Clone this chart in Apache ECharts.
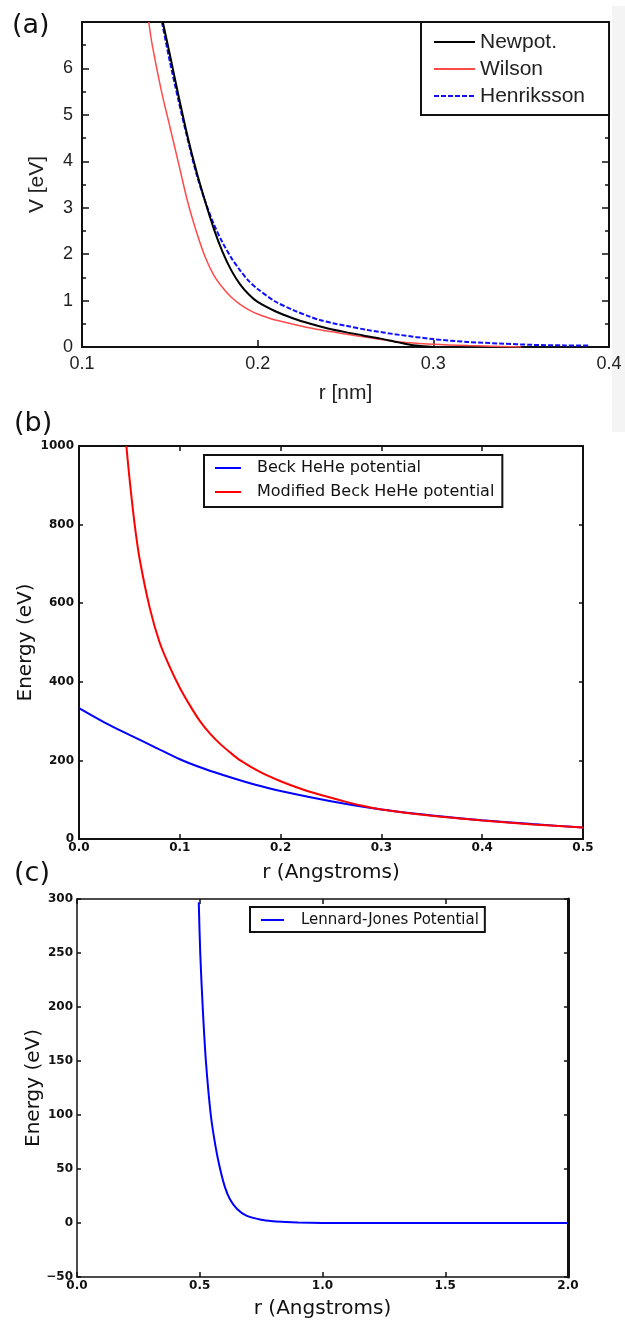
<!DOCTYPE html>
<html>
<head>
<meta charset="utf-8">
<script src="https://cdn.jsdelivr.net/npm/echarts@6/dist/echarts.min.js"></script>
<style>
  html, body { margin: 0; padding: 0; background: #fff; }
  #chart { width: 625px; height: 1322px; }
</style>
</head>
<body>
<div id="chart"></div>
<script>
// ---- (a) He-He repulsive potentials: r in nm, V in eV ----
const newpotR = [0.146, 0.150, 0.155, 0.160, 0.165, 0.170, 0.175, 0.180, 0.185, 0.190, 0.195, 0.200, 0.210, 0.220, 0.230, 0.240, 0.250, 0.260, 0.270, 0.280, 0.290, 0.300];
const newpotV = [7.0, 6.3, 5.4, 4.55, 3.8, 3.15, 2.55, 2.05, 1.65, 1.35, 1.13, 0.97, 0.77, 0.62, 0.50, 0.40, 0.32, 0.25, 0.18, 0.10, 0.03, 0.0];
const wilsonR = [0.138, 0.140, 0.145, 0.150, 0.155, 0.160, 0.165, 0.170, 0.175, 0.180, 0.185, 0.190, 0.195, 0.200, 0.210, 0.224, 0.2355, 0.250, 0.262, 0.281, 0.300, 0.320, 0.350];
const wilsonV = [7.0, 6.5, 5.55, 4.75, 3.95, 3.15, 2.5, 1.95, 1.55, 1.28, 1.07, 0.92, 0.80, 0.71, 0.58, 0.46, 0.37, 0.28, 0.21, 0.11, 0.06, 0.03, 0.0];
const henrikR = [0.1455, 0.150, 0.155, 0.160, 0.165, 0.170, 0.175, 0.180, 0.185, 0.190, 0.195, 0.200, 0.210, 0.220, 0.230, 0.2355, 0.243, 0.250, 0.262, 0.281, 0.300, 0.319, 0.338, 0.357, 0.375, 0.389];
const henrikV = [7.0, 6.15, 5.3, 4.5, 3.75, 3.15, 2.65, 2.25, 1.92, 1.65, 1.42, 1.25, 0.98, 0.80, 0.65, 0.58, 0.51, 0.46, 0.37, 0.26, 0.17, 0.11, 0.075, 0.045, 0.035, 0.03];

// ---- (b) Beck He-He potential and modified form: r in Angstroms, E in eV ----
const beckR = [0.0, 0.025, 0.05, 0.075, 0.10, 0.125, 0.15, 0.175, 0.20, 0.25, 0.30, 0.35, 0.40, 0.45, 0.50];
const beckE = [333, 297, 265, 234, 203, 178, 157, 138, 122, 96, 75, 60, 48, 38, 29];
const modBeckR = [0.047, 0.050, 0.055, 0.060, 0.070, 0.080, 0.090, 0.100, 0.110, 0.120, 0.130, 0.140, 0.150, 0.160, 0.180, 0.200, 0.220, 0.240, 0.260, 0.280, 0.300, 0.350, 0.400, 0.450, 0.500];
const modBeckE = [1000, 920, 805, 715, 590, 500, 438, 385, 340, 300, 268, 242, 220, 200, 170, 147, 128, 112, 98, 85, 75, 59, 47, 37, 29];

// ---- (c) Lennard-Jones potential: r in Angstroms, E in eV ----
const ljR = [0.496, 0.502, 0.512, 0.525, 0.545, 0.565, 0.583, 0.603, 0.623, 0.652, 0.690, 0.750, 0.800, 0.850, 0.900, 1.000, 1.200, 1.500, 2.000];
const ljE = [297, 250, 200, 150, 100, 70, 50, 33, 22, 13, 6.8, 3.0, 1.6, 0.9, 0.5, 0.1, 0.0, 0.0, 0.0];

// ---- axis ranges and tick steps ----
const xTicksA = { min: 0.1, max: 0.4, interval: 0.1 };
const yTicksA = { min: 0, max: 7, interval: 1 };
const xTicksB = { min: 0, max: 0.5, interval: 0.1 };
const yTicksB = { min: 0, max: 1000, interval: 200 };
const xTicksC = { min: 0, max: 2, interval: 0.5 };
const yTicksC = { min: -50, max: 300, interval: 50 };

const sans = 'Liberation Sans, Arial, sans-serif';
const deja = 'DejaVu Sans, sans-serif';
const pairs = (xs, ys) => xs.map((x, i) => [x, ys[i]]);
const fmt1 = v => v.toFixed(1);
const fmtInt = v => (v < 0 ? '\u2212' + Math.abs(v) : String(v));

function lineOf(width) { return { show: true, onZero: false, lineStyle: { color: '#111', width: width } }; }
function ticksOf(len, show) { return { show: show !== false, inside: true, length: len, lineStyle: { color: '#111', width: 1.5 } }; }

const tickFontA = { fontFamily: sans, fontSize: 18, color: '#222' };
const tickFontB = { fontFamily: deja, fontSize: 12, fontWeight: 'bold', color: '#111' };

const xAxes = [
  // (a)
  Object.assign({ type: 'value', gridIndex: 0, position: 'bottom', axisLine: lineOf(2), axisTick: ticksOf(7),
    axisLabel: Object.assign({ margin: 8, formatter: fmt1 }, tickFontA), splitLine: { show: false },
    name: 'r [nm]', nameLocation: 'middle', nameGap: 36, nameTextStyle: { fontFamily: sans, fontSize: 21, color: '#222' } }, xTicksA),
  Object.assign({ type: 'value', gridIndex: 0, position: 'top', axisLine: lineOf(2), axisTick: ticksOf(7, false),
    axisLabel: { show: false }, splitLine: { show: false } }, xTicksA),
  // (b)
  Object.assign({ type: 'value', gridIndex: 1, position: 'bottom', axisLine: lineOf(2), axisTick: ticksOf(5),
    axisLabel: Object.assign({ margin: 3, formatter: fmt1 }, tickFontB), splitLine: { show: false },
    name: 'r (Angstroms)', nameLocation: 'middle', nameGap: 24, nameTextStyle: { fontFamily: deja, fontSize: 20, color: '#111' } }, xTicksB),
  Object.assign({ type: 'value', gridIndex: 1, position: 'top', axisLine: lineOf(2), axisTick: ticksOf(5),
    axisLabel: { show: false }, splitLine: { show: false } }, xTicksB),
  // (c)
  Object.assign({ type: 'value', gridIndex: 2, position: 'bottom', axisLine: lineOf(1.5), axisTick: ticksOf(5),
    axisLabel: Object.assign({ margin: 3, formatter: fmt1 }, tickFontB), splitLine: { show: false },
    name: 'r (Angstroms)', nameLocation: 'middle', nameGap: 22, nameTextStyle: { fontFamily: deja, fontSize: 20, color: '#111' } }, xTicksC),
  Object.assign({ type: 'value', gridIndex: 2, position: 'top', axisLine: lineOf(1.5), axisTick: ticksOf(5),
    axisLabel: { show: false }, splitLine: { show: false } }, xTicksC)
];

const yAxes = [
  // (a)
  Object.assign({ type: 'value', gridIndex: 0, position: 'left', axisLine: lineOf(2), axisTick: ticksOf(7),
    minorTick: { show: true, splitNumber: 2, length: 4, lineStyle: { color: '#111', width: 1.5 } },
    axisLabel: Object.assign({ margin: 9, showMaxLabel: false }, tickFontA), splitLine: { show: false }, minorSplitLine: { show: false },
    name: 'V [eV]', nameLocation: 'middle', nameGap: 34, nameMoveOverlap: false,
    nameTextStyle: { fontFamily: sans, fontSize: 21, color: '#222' } }, yTicksA),
  Object.assign({ type: 'value', gridIndex: 0, position: 'right', axisLine: lineOf(2), axisTick: ticksOf(7),
    minorTick: { show: true, splitNumber: 2, length: 4, lineStyle: { color: '#111', width: 1.5 } },
    axisLabel: { show: false }, splitLine: { show: false }, minorSplitLine: { show: false } }, yTicksA),
  // (b)
  Object.assign({ type: 'value', gridIndex: 1, position: 'left', axisLine: lineOf(2), axisTick: ticksOf(4),
    axisLabel: Object.assign({ margin: 5, formatter: fmtInt }, tickFontB), splitLine: { show: false },
    name: 'Energy (eV)', nameLocation: 'middle', nameGap: 43, nameMoveOverlap: false,
    nameTextStyle: { fontFamily: deja, fontSize: 20, color: '#111' } }, yTicksB),
  Object.assign({ type: 'value', gridIndex: 1, position: 'right', axisLine: lineOf(2), axisTick: ticksOf(4),
    axisLabel: { show: false }, splitLine: { show: false } }, yTicksB),
  // (c)
  Object.assign({ type: 'value', gridIndex: 2, position: 'left', axisLine: lineOf(1.5), axisTick: ticksOf(4),
    axisLabel: Object.assign({ margin: 4, formatter: fmtInt }, tickFontB), splitLine: { show: false },
    name: 'Energy (eV)', nameLocation: 'middle', nameGap: 33, nameMoveOverlap: false,
    nameTextStyle: { fontFamily: deja, fontSize: 20, color: '#111' } }, yTicksC),
  Object.assign({ type: 'value', gridIndex: 2, position: 'right', axisLine: lineOf(3), axisTick: ticksOf(4),
    axisLabel: { show: false }, splitLine: { show: false } }, yTicksC)
];

function curve(name, xi, yi, data, color, width, type) {
  return {
    name: name, type: 'line', xAxisIndex: xi, yAxisIndex: yi, data: data,
    symbol: 'none', smooth: 0.3, clip: true,
    lineStyle: { color: color, width: width, type: type || 'solid' },
    itemStyle: { color: color }
  };
}

// legend entries show only the line sample
const hiddenMarker = { opacity: 0 };

const option = {
  backgroundColor: '#fff',
  animation: false,
  grid: [
    { left: 82, top: 22, width: 527, height: 325 },
    { left: 79, top: 446, width: 504, height: 393 },
    { left: 77, top: 899, width: 491, height: 378 }
  ],
  xAxis: xAxes,
  yAxis: yAxes,
  legend: [
    { data: ['Newpot.', 'Wilson', 'Henriksson'], left: 421, top: 22, orient: 'vertical', align: 'left',
      backgroundColor: '#fff', borderColor: '#111', borderWidth: 2, borderRadius: 0,
      padding: [9, 24, 8, 12], itemWidth: 41, itemHeight: 14, itemGap: 5, itemStyle: hiddenMarker,
      textStyle: { fontFamily: sans, fontSize: 21, color: '#222', lineHeight: 22 } },
    { data: ['Beck HeHe potential', 'Modified Beck HeHe potential'], left: 204, top: 455, orient: 'vertical', align: 'left',
      backgroundColor: '#fff', borderColor: '#111', borderWidth: 2, borderRadius: 0,
      padding: [4, 8, 6, 10], itemWidth: 26, itemHeight: 10, itemGap: 6, itemStyle: hiddenMarker,
      textStyle: { fontFamily: deja, fontSize: 16, color: '#111', lineHeight: 18, padding: [0, 0, 0, 11] } },
    { data: ['Lennard-Jones Potential'], left: 250, top: 907, orient: 'vertical', align: 'left',
      backgroundColor: '#fff', borderColor: '#111', borderWidth: 2, borderRadius: 0,
      padding: [4, 6, 3, 10], itemWidth: 23, itemHeight: 10, itemStyle: hiddenMarker,
      textStyle: { fontFamily: deja, fontSize: 15, color: '#111', lineHeight: 18, padding: [0, 0, 0, 12] } }
  ],
  graphic: [
    { type: 'rect', shape: { x: 612, y: 6, width: 13, height: 426 }, style: { fill: '#f4f4f4' }, z: -10, silent: true },
    { type: 'text', left: 12, top: 12, style: { text: '(a)', font: '27px DejaVu Sans', fill: '#111' } },
    { type: 'text', left: 14, top: 410, style: { text: '(b)', font: '27px DejaVu Sans', fill: '#111' } },
    { type: 'text', left: 14, top: 860, style: { text: '(c)', font: '27px DejaVu Sans', fill: '#111' } }
  ],
  series: [
    curve('Wilson', 0, 0, pairs(wilsonR, wilsonV), '#ff4a4a', 1.5),
    curve('Henriksson', 0, 0, pairs(henrikR, henrikV), '#1010ff', 2, [5, 2]),
    curve('Newpot.', 0, 0, pairs(newpotR, newpotV), '#000000', 2),
    curve('Beck HeHe potential', 2, 2, pairs(beckR, beckE), '#0000ff', 2),
    curve('Modified Beck HeHe potential', 2, 2, pairs(modBeckR, modBeckE), '#ff0000', 2),
    curve('Lennard-Jones Potential', 4, 4, pairs(ljR, ljE), '#0000ff', 2)
  ]
};

const chart = echarts.init(document.getElementById('chart'), null, { renderer: 'canvas' });
chart.setOption(option);
</script>
</body>
</html>
